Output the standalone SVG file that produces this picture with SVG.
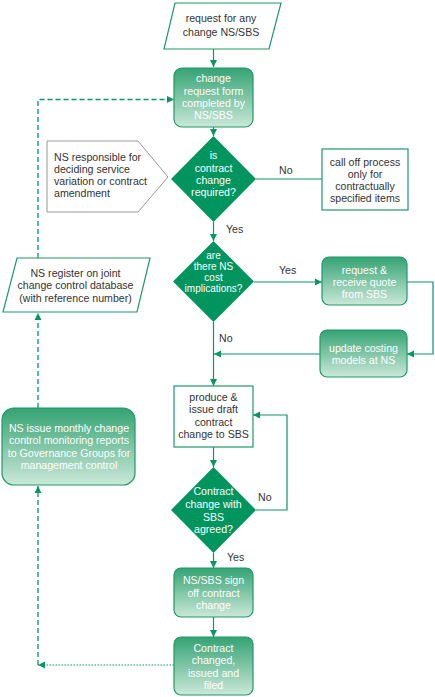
<svg xmlns="http://www.w3.org/2000/svg" width="435" height="697" viewBox="0 0 435 697">
<defs>
<linearGradient id="g" x1="0" y1="0" x2="0" y2="1">
<stop offset="0" stop-color="#34a373"/>
<stop offset="1" stop-color="#cbe8d9"/>
</linearGradient>
<marker id="ah" markerUnits="userSpaceOnUse" markerWidth="8" markerHeight="8" refX="7" refY="4" orient="auto">
<path d="M0,0.5 L7,4 L0,7.5 z" fill="#0a9662"/>
</marker>
</defs>
<style>
text{font-family:"Liberation Sans",Arial,sans-serif;font-size:10.6px;fill:#333}
.w{fill:#fff;text-anchor:middle}
.c{text-anchor:middle}
.gb{fill:url(#g);stroke:#1d9a68;stroke-width:1.2}
.wb{fill:#fff;stroke:#1d9a68;stroke-width:1.2}
.dm{fill:#00955f}
.ln{fill:none;stroke:#0a9662;stroke-width:1.2}
.ds{fill:none;stroke:#0a9662;stroke-width:1.3;stroke-dasharray:5,3}
.dt{fill:none;stroke:#0a9662;stroke-width:1.2;stroke-dasharray:1.5,1.5}
</style>
<g id="connectors">
<path class="ln" d="M213.5,49 V67" marker-end="url(#ah)"/>
<path class="ln" d="M213.5,127 V136" marker-end="url(#ah)"/>
<path class="ln" d="M256,179 H322"/>
<path class="ln" d="M213.5,222 V241" marker-end="url(#ah)"/>
<path class="ln" d="M254,282 H322" marker-end="url(#ah)"/>
<path class="ln" d="M407,282 H433 V354 H407" marker-end="url(#ah)"/>
<path class="ln" d="M320,354 H214" marker-end="url(#ah)"/>
<path class="ln" d="M213.5,322 V386" marker-end="url(#ah)"/>
<path class="ln" d="M213.5,447 V467" marker-end="url(#ah)"/>
<path class="ln" d="M256,510 H287 V415 H253" marker-end="url(#ah)"/>
<path class="ln" d="M213.5,553 V568" marker-end="url(#ah)"/>
<path class="ln" d="M213.5,617 V637" marker-end="url(#ah)"/>
<path class="dt" d="M174,665 H38" marker-end="url(#ah)"/>
<path class="ds" d="M38,665 V486" marker-end="url(#ah)"/>
<path class="ds" d="M38,408 V313" marker-end="url(#ah)"/>
<path class="ds" d="M38,258 V99.5 H174" marker-end="url(#ah)"/>
<text x="279" y="174">No</text>
<text x="226" y="233">Yes</text>
<text x="279" y="274">Yes</text>
<text x="219" y="342">No</text>
<text x="258" y="501">No</text>
<text x="227" y="561">Yes</text>
</g>
<g id="n1">
<polygon class="wb" points="175,3 281,3 269,49 164,49"/>
<text class="c" x="221" y="22">request for any</text>
<text class="c" x="221" y="36">change NS/SBS</text>
</g>
<g id="n2">
<rect class="gb" x="174" y="68" width="79" height="59" rx="8"/>
<text class="w" x="213.5" y="82">change</text>
<text class="w" x="213.5" y="94.5">request form</text>
<text class="w" x="213.5" y="107">completed by</text>
<text class="w" x="213.5" y="119">NS/SBS</text>
</g>
<g id="n3">
<polygon fill="#fff" stroke="#999" stroke-width="1" points="47,141 138,141 168,177 138,212 47,212"/>
<text x="54" y="161">NS responsible for</text>
<text x="54" y="173">deciding service</text>
<text x="54" y="185">variation or contract</text>
<text x="54" y="197">amendment</text>
</g>
<g id="n4">
<polygon class="dm" points="213.5,136 256,179 213.5,222 171,179"/>
<text class="w" x="213.5" y="159">is</text>
<text class="w" x="213.5" y="171.5">contract</text>
<text class="w" x="213.5" y="184">change</text>
<text class="w" x="213.5" y="196">required?</text>
</g>
<g id="n5">
<rect class="wb" x="322" y="149" width="86" height="61"/>
<text class="c" x="365" y="166">call off process</text>
<text class="c" x="365" y="178">only for</text>
<text class="c" x="365" y="190">contractually</text>
<text class="c" x="365" y="202">specified items</text>
</g>
<g id="n6">
<polygon class="dm" points="213.5,241 254,281.5 213.5,322 173,281.5"/>
<text class="w" x="213.5" y="259" style="font-size:10px">are</text>
<text class="w" x="213.5" y="270" style="font-size:10px">there NS</text>
<text class="w" x="213.5" y="281" style="font-size:10px">cost</text>
<text class="w" x="213.5" y="291.5" style="font-size:10px">implications?</text>
</g>
<g id="n7">
<rect class="gb" x="322" y="257" width="85" height="48" rx="7"/>
<text class="w" x="364.5" y="274">request &amp;</text>
<text class="w" x="364.5" y="286">receive quote</text>
<text class="w" x="364.5" y="298">from SBS</text>
</g>
<g id="n8">
<rect class="gb" x="320" y="330" width="87" height="47" rx="7"/>
<text class="w" x="363.5" y="352">update costing</text>
<text class="w" x="363.5" y="364">models at NS</text>
</g>
<g id="n9">
<polygon class="wb" points="17,258 150,258 137,312 3,312"/>
<text class="c" x="75.5" y="277">NS register on joint</text>
<text class="c" x="75.5" y="289">change control database</text>
<text class="c" x="75.5" y="302">(with reference number)</text>
</g>
<g id="n10">
<rect class="gb" x="2" y="408" width="133" height="77" rx="12"/>
<text class="w" x="69" y="432">NS issue monthly change</text>
<text class="w" x="69" y="444">control monitoring reports</text>
<text class="w" x="69" y="456.5">to Governance Groups for</text>
<text class="w" x="69" y="469">management control</text>
</g>
<g id="n11">
<rect class="wb" x="174" y="386" width="79" height="61"/>
<text class="c" x="213.5" y="401">produce &amp;</text>
<text class="c" x="213.5" y="413">issue draft</text>
<text class="c" x="213.5" y="426">contract</text>
<text class="c" x="213.5" y="438">change to SBS</text>
</g>
<g id="n12">
<polygon class="dm" points="213.5,467 256,510 213.5,553 171,510"/>
<text class="w" x="213.5" y="495">Contract</text>
<text class="w" x="213.5" y="507.5">change with</text>
<text class="w" x="213.5" y="520.5">SBS</text>
<text class="w" x="213.5" y="533">agreed?</text>
</g>
<g id="n13">
<rect class="gb" x="174" y="568" width="79" height="49" rx="7"/>
<text class="w" x="213.5" y="584">NS/SBS sign</text>
<text class="w" x="213.5" y="597">off contract</text>
<text class="w" x="213.5" y="609">change</text>
</g>
<g id="n14">
<rect class="gb" x="174" y="637" width="79" height="58" rx="7"/>
<text class="w" x="213.5" y="652">Contract</text>
<text class="w" x="213.5" y="664">changed,</text>
<text class="w" x="213.5" y="677">issued and</text>
<text class="w" x="213.5" y="689">filed</text>
</g>
</svg>
